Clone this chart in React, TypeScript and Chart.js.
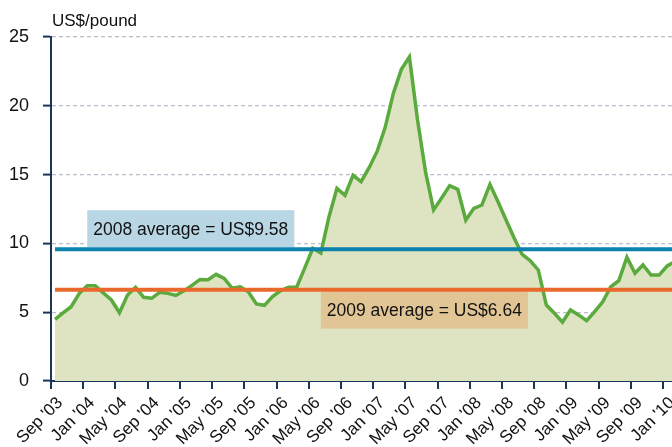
import React, { useEffect, useRef } from "react";
import { Chart, registerables } from "chart.js";

Chart.register(...registerables);

// ---- data ----
const TICK_LABELS = [
  "Sep '03", "Jan '04", "May '04", "Sep '04", "Jan '05", "May '05", "Sep '05",
  "Jan '06", "May '06", "Sep '06", "Jan '07", "May '07", "Sep '07", "Jan '08",
  "May '08", "Sep '08", "Jan '09", "May '09", "Sep '09", "Jan '10",
];
const MONTHS_PER_TICK = 4;
// monthly price, US$/pound, from Sep '03
const PRICES = [
  4.48, 4.95, 5.4, 6.35, 6.93, 6.93, 6.4, 5.89, 4.96, 6.25, 6.81, 6.08, 6.01,
  6.45, 6.37, 6.22, 6.55, 6.95, 7.38, 7.36, 7.75, 7.45, 6.74, 6.85, 6.49, 5.6,
  5.5, 6.13, 6.56, 6.81, 6.81, 8.2, 9.64, 9.3, 11.9, 14.0, 13.5, 14.95, 14.49,
  15.5, 16.7, 18.45, 20.9, 22.65, 23.55, 19.0, 15.2, 12.43, 13.3, 14.2, 13.93,
  11.7, 12.55, 12.79, 14.29, 13.03, 11.7, 10.4, 9.2, 8.74, 8.07, 5.52, 4.92,
  4.27, 5.16, 4.8, 4.38, 5.04, 5.76, 6.85, 7.29, 8.99, 7.83, 8.43, 7.7, 7.7,
  8.36, 8.7,
];
const AVG_2008 = 9.58;
const AVG_2009 = 6.64;
const LABEL_2008 = "2008 average = US$9.58";
const LABEL_2009 = "2009 average = US$6.64";
const BOX_2008_START_MONTH = 4.5;
const BOX_2009_START_MONTH = 33.5;
const Y_MIN = 0;
const Y_MAX = 25;
const Y_STEP = 5;
const X_MAX_MONTHS = 77.1;
const UNIT_LABEL = "US$/pound";

// ---- styles ----
const FONT = "'Liberation Sans', Arial, sans-serif";
const NAVY = "#1b3557";
const GREEN = "#5aaa3e";
const GREEN_FILL = "#dee3c2";
const BLUE = "#0d82ad";
const ORANGE = "#e8692b";
const BLUE_BOX = "#b9d6e5";
const ORANGE_BOX = "#e2c594";
const GRID = "#bdbccb";

const overlayPlugin = {
  id: "overlay",
  afterDatasetDraw(chart: any, args: any) {
    if (args.index !== 0) return;
    const { ctx } = chart;
    const x = chart.scales.x;
    const y = chart.scales.y;
    ctx.save();
    ctx.font = `17.5px ${FONT}`;
    ctx.textBaseline = "middle";
    ctx.textAlign = "left";
    const pad = 6;
    const h = 37;
    {
      const w = ctx.measureText(LABEL_2008).width + pad * 2;
      const left = x.getPixelForValue(BOX_2008_START_MONTH);
      const bottom = y.getPixelForValue(AVG_2008) - 2;
      ctx.fillStyle = BLUE_BOX;
      ctx.fillRect(left, bottom - h, w, h);
      ctx.fillStyle = "#111";
      ctx.fillText(LABEL_2008, left + pad, bottom - h / 2 + 1);
    }
    {
      const w = ctx.measureText(LABEL_2009).width + pad * 2;
      const left = x.getPixelForValue(BOX_2009_START_MONTH);
      const top = y.getPixelForValue(AVG_2009) + 2;
      ctx.fillStyle = ORANGE_BOX;
      ctx.fillRect(left, top, w, h);
      ctx.fillStyle = "#111";
      ctx.fillText(LABEL_2009, left + pad, top + h / 2 + 1);
    }
    ctx.restore();
  },
  afterDraw(chart: any) {
    const { ctx, chartArea } = chart;
    ctx.save();
    ctx.font = `17px ${FONT}`;
    ctx.fillStyle = "#111";
    ctx.textBaseline = "middle";
    ctx.textAlign = "left";
    ctx.fillText(UNIT_LABEL, chartArea.left + 1, chartArea.top - 16);
    ctx.restore();
  },
};

export default function App() {
  const ref = useRef<HTMLCanvasElement | null>(null);

  useEffect(() => {
    if (!ref.current) return;
    const points = PRICES.map((v, i) => ({ x: i + 0.5, y: v }));
    const first = points[0].x;
    const last = points[points.length - 1].x;
    const chart = new Chart(ref.current, {
      type: "line",
      data: {
        datasets: [
          {
            data: points,
            borderColor: GREEN,
            backgroundColor: GREEN_FILL,
            borderWidth: 3.5,
            fill: "origin",
            pointRadius: 0,
            tension: 0,
            order: 2,
          },
          {
            data: [{ x: first, y: AVG_2008 }, { x: last, y: AVG_2008 }],
            borderColor: BLUE,
            borderWidth: 4,
            pointRadius: 0,
            fill: false,
            order: 1,
          },
          {
            data: [{ x: first, y: AVG_2009 }, { x: last, y: AVG_2009 }],
            borderColor: ORANGE,
            borderWidth: 4,
            pointRadius: 0,
            fill: false,
            order: 1,
          },
        ],
      },
      options: {
        responsive: false,
        animation: false,
        events: [],
        layout: { padding: { top: 37, left: 0, right: 0, bottom: 0 } },
        plugins: {
          legend: { display: false },
          tooltip: { enabled: false },
          title: { display: false },
        },
        scales: {
          x: {
            type: "linear",
            min: 0,
            max: X_MAX_MONTHS,
            afterBuildTicks: (scale: any) => {
              scale.ticks = TICK_LABELS.map((_, i) => ({ value: i * MONTHS_PER_TICK }));
            },
            afterFit: (scale: any) => {
              scale.height = 66;
              scale.paddingRight = 0;
              scale.paddingLeft = 0;
            },
            ticks: {
              autoSkip: false,
              minRotation: 45,
              maxRotation: 45,
              padding: 4,
              labelOffset: 9,
              color: "#111",
              font: { family: FONT, size: 17 },
              callback: (v: any) => TICK_LABELS[Math.round(Number(v) / MONTHS_PER_TICK)] ?? "",
            },
            grid: {
              display: true,
              drawOnChartArea: false,
              drawTicks: true,
              tickLength: 8,
              color: NAVY,
              lineWidth: 2,
            },
            border: { display: true, color: NAVY, width: 2 },
          },
          y: {
            type: "linear",
            min: Y_MIN,
            max: Y_MAX,
            afterFit: (scale: any) => {
              scale.width = 51;
            },
            ticks: {
              stepSize: Y_STEP,
              padding: 14,
              color: "#111",
              font: { family: FONT, size: 18 },
            },
            grid: {
              color: GRID,
              lineWidth: 1.2,
              tickColor: NAVY,
              tickWidth: 2,
              tickLength: 8,
            },
            border: { display: true, color: NAVY, width: 2, dash: [4, 3] },
          },
        },
      },
      plugins: [overlayPlugin],
    });
    return () => chart.destroy();
  }, []);

  return (
    <div style={{ position: "fixed", left: 0, top: 0, width: 672, height: 447, background: "#fff" }}>
      <canvas ref={ref} width={672} height={447} style={{ display: "block" }} />
    </div>
  );
}
